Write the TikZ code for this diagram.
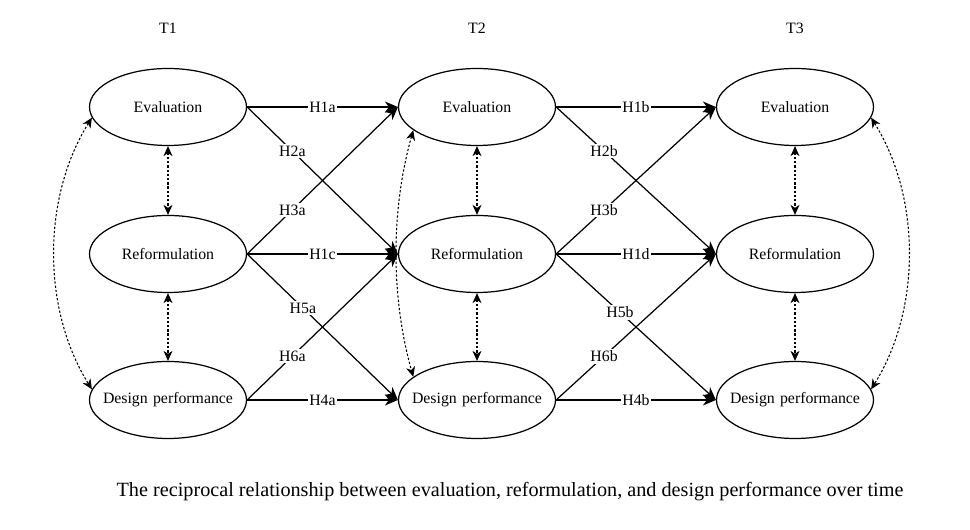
\documentclass[tikz,border=0pt]{standalone}
\usepackage{fontspec}
\setmainfont{Liberation Serif}
\usetikzlibrary{arrows.meta,shapes.geometric}
\tikzset{
	var/.style={ellipse, draw, line width=0.7pt, minimum width=3.14cm, minimum height=1.54cm, text width=3cm, align=center, inner xsep=-0.5cm, inner ysep=0pt, font=\fontsize{9}{10}\selectfont},
	path/.style={line width=0.7pt, -{Stealth[length=2.6mm, width=2.2mm, inset=0.8mm]}},
	cov/.style={dash pattern=on 1.3pt off 1.1pt, line width=0.6pt, {Stealth[length=2mm, width=1.8mm, inset=0.6mm]}-{Stealth[length=2mm, width=1.8mm, inset=0.6mm]}},
	hyp/.style={fill=white, inner sep=1pt, font=\fontsize{9}{10}\selectfont}
}

\begin{document}
\begin{tikzpicture}
			%%%%% START %%%%%
			\useasboundingbox (0, 0) rectangle (19.4, 10.6);
			
			\node[font=\fontsize{9}{10}\selectfont] (t1) at (3.36, 10.04) {T1};
			\node[font=\fontsize{9}{10}\selectfont] (t2) at (9.54, 10.04) {T2};
			\node[font=\fontsize{9}{10}\selectfont] (t3) at (15.9, 10.04) {T3};
			
			\node[var] (ev1) at (3.36, 8.46) {Evaluation};
			\node[var] (re1) at (3.36, 5.52) {Reformulation};
			\node[var] (dp1) at (3.36, 2.6) {Design performance};
			
			\node[var] (ev2) at (9.54, 8.46) {Evaluation};
			\node[var] (re2) at (9.54, 5.52) {Reformulation};
			\node[var] (dp2) at (9.54, 2.6) {Design performance};
			
			\node[var] (ev3) at (15.9, 8.46) {Evaluation};
			\node[var] (re3) at (15.9, 5.52) {Reformulation};
			\node[var] (dp3) at (15.9, 2.6) {Design performance};
			
			% T1 -> T2
			\draw[path] (ev1.east) -- node[hyp] {H1a} (ev2.west);
			\draw[path] (re1.east) -- node[hyp] {H1c} (re2.west);
			\draw[path] (dp1.east) -- node[hyp] {H4a} (dp2.west);
			\draw[path] (ev1.east) -- node[hyp, pos=0.3] {H2a} (re2.west);
			\draw[path] (re1.east) -- node[hyp, pos=0.3] {H3a} (ev2.west);
			\draw[path] (re1.east) -- node[hyp, pos=0.37] {H5a} (dp2.west);
			\draw[path] (dp1.east) -- node[hyp, pos=0.3] {H6a} (re2.west);
			
			% T2 -> T3
			\draw[path] (ev2.east) -- node[hyp] {H1b} (ev3.west);
			\draw[path] (re2.east) -- node[hyp] {H1d} (re3.west);
			\draw[path] (dp2.east) -- node[hyp] {H4b} (dp3.west);
			\draw[path] (ev2.east) -- node[hyp, pos=0.3] {H2b} (re3.west);
			\draw[path] (re2.east) -- node[hyp, pos=0.3] {H3b} (ev3.west);
			\draw[path] (re2.east) -- node[hyp, pos=0.4] {H5b} (dp3.west);
			\draw[path] (dp2.east) -- node[hyp, pos=0.3] {H6b} (re3.west);
			
			% covariances
			\draw[cov] (ev1.south) -- (re1.north);
			\draw[cov] (re1.south) -- (dp1.north);
			\draw[cov] (ev2.south) -- (re2.north);
			\draw[cov] (re2.south) -- (dp2.north);
			\draw[cov] (ev3.south) -- (re3.north);
			\draw[cov] (re3.south) -- (dp3.north);
			
			\draw[cov] (ev1.188) .. controls +(-1.0, -1.6) and +(-1.0, 1.6) .. (dp1.172);
			\draw[cov] (ev2.200) .. controls +(-0.45, -1.6) and +(-0.45, 1.6) .. (dp2.160);
			\draw[cov] (ev3.-8) .. controls +(1.0, -1.6) and +(1.0, 1.6) .. (dp3.8);
			
			\node[font=\fontsize{11.5}{13}\selectfont] (cap) at (10.2, 0.76) {The reciprocal relationship between evaluation, reformulation, and design performance over time};
			%%%%% END %%%%%
\end{tikzpicture}
\end{document}
